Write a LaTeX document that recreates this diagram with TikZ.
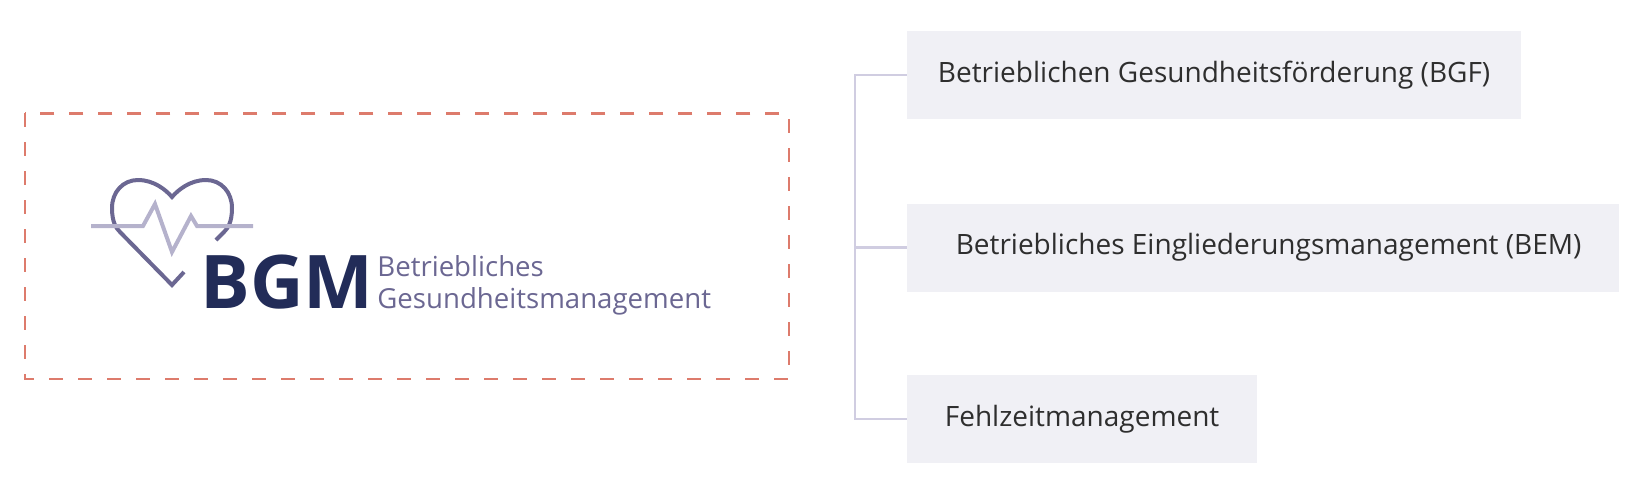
\documentclass[tikz,border=0pt]{standalone}
\usepackage{fontspec}
\setmainfont{Open Sans}
\definecolor{dashcol}{RGB}{221,123,108}
\definecolor{heartcol}{RGB}{107,103,146}
\definecolor{beatcol}{RGB}{181,178,204}
\definecolor{bgmcol}{RGB}{34,44,88}
\definecolor{itemfill}{RGB}{240,240,245}
\definecolor{itemtext}{RGB}{46,46,46}
\definecolor{linkcol}{RGB}{208,205,225}

\begin{document}
\begin{tikzpicture}[x=0.5pt, y=-0.5pt,
  item/.style={fill=itemfill, text=itemtext, anchor=west, inner sep=0pt,
    minimum height=44pt, font=\fontsize{14}{16}\selectfont},
  link/.style={draw=linkcol, line width=1.2pt},
  frame/.style={draw=dashcol, line width=1.2pt, dash pattern=on 7pt off 7.5pt},
  heart/.style={draw=heartcol, line width=2pt},
  beat/.style={draw=beatcol, line width=2pt},
  bgmtext/.style={text=bgmcol, inner sep=0pt, anchor=base west,
    font=\bfseries\fontsize{37}{40}\selectfont},
  claim/.style={text=heartcol, inner sep=0pt, anchor=base west,
    text height=10pt, text depth=3pt, font=\fontsize{13.8}{16}\selectfont}]
\useasboundingbox (0,0) rectangle (1648,493);
% logo frame
\draw[frame] (25,113.3) rectangle (789,379);
% heart with pulse
\draw[heart] (216,240) -- (224,232) .. controls (228,228) and (232,222) .. (232,208)
  .. controls (232,192) and (221,180) .. (206,180)
  .. controls (190,180) and (178,190) .. (172,197)
  .. controls (166,190) and (154,180) .. (138,180)
  .. controls (123,180) and (112,192) .. (112,208)
  .. controls (112,222) and (116,228) .. (120,232)
  -- (172,285) -- (184,272);
\draw[beat] (91,226) -- (143,226) -- (155,204) -- (172,252) -- (191,216)
  -- (197,226) -- (253,226);
\node[bgmtext] (bgm) at (200,308) {BGM};
\node[claim] (claimtop) at (377,276) {Betriebliches};
\node[claim] (claimbot) at (377,308) {Gesundheitsmanagement};
% the three parts
\node[item, minimum width=307pt] (bgf) at (906.7,74.7) {Betrieblichen Gesundheitsförderung (BGF)};
\node[item, minimum width=356pt] (bem) at (906.7,247.5) {\hspace*{5.5pt}Betriebliches Eingliederungsmanagement (BEM)};
\node[item, minimum width=175pt] (fz) at (906.7,419) {Fehlzeitmanagement};
\coordinate (spine) at (855,0);
\draw[link] (bgf.west) -- (bgf.west -| spine) |- (fz.west);
\draw[link] (bem.west) -- (bem.west -| spine);
\end{tikzpicture}
\end{document}
